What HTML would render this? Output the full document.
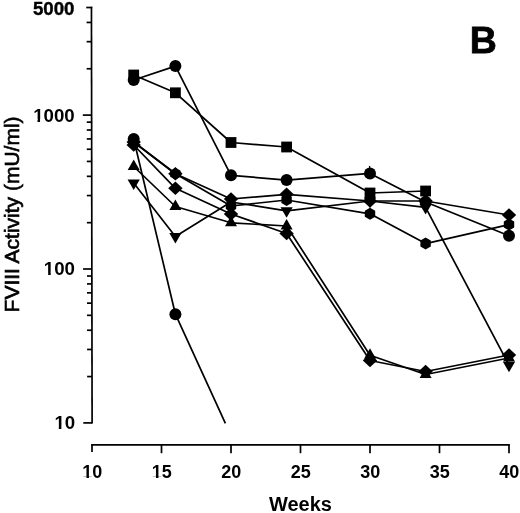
<!DOCTYPE html>
<html><head><meta charset="utf-8"><title>FVIII Activity</title><style>
html,body{margin:0;padding:0;background:#fff;width:520px;height:513px;overflow:hidden;}
svg{display:block;font-family:"Liberation Sans", sans-serif;}
</style></head><body>
<svg width="520" height="513" viewBox="0 0 520 513">
<defs><clipPath id="c1000"><rect x="30.13" y="91.6" width="47.6" height="27.74"/><rect x="37.5" y="91.6" width="2.57" height="36"/><rect x="43.72" y="91.6" width="34.01" height="36"/></clipPath><clipPath id="c100"><rect x="40.79" y="245.1" width="37.2" height="27.74"/><rect x="48.15" y="245.1" width="2.57" height="36"/><rect x="54.38" y="245.1" width="23.61" height="36"/></clipPath><clipPath id="c10"><rect x="51.45" y="399.1" width="26.8" height="27.74"/><rect x="58.81" y="399.1" width="2.57" height="36"/><rect x="65.04" y="399.1" width="13.21" height="36"/></clipPath><clipPath id="x10"><rect x="79.29" y="448.4" width="26.02" height="27.81"/><rect x="86.49" y="448.4" width="2.47" height="36"/><rect x="92.48" y="448.4" width="12.83" height="36"/></clipPath><clipPath id="x15"><rect x="148.79" y="448.4" width="26.02" height="27.81"/><rect x="155.99" y="448.4" width="2.47" height="36"/><rect x="161.98" y="448.4" width="12.83" height="36"/></clipPath></defs>
<rect width="520" height="513" fill="#fff"/>
<g stroke="#000" stroke-width="1.7" fill="none"><path d="M91.45 6.7 L92.1 423.4"/><path d="M83.3 422.9 L92.1 422.9"/><path d="M87.13 376.57 L92.03 376.57"/><path d="M87.08 349.47 L91.98 349.47"/><path d="M87.05 330.24 L91.95 330.24"/><path d="M87.03 315.33 L91.93 315.33"/><path d="M87.01 303.14 L91.91 303.14"/><path d="M87 292.84 L91.9 292.84"/><path d="M86.98 283.91 L91.88 283.91"/><path d="M86.97 276.04 L91.87 276.04"/><path d="M83.06 269 L91.86 269"/><path d="M86.89 222.67 L91.79 222.67"/><path d="M86.84 195.57 L91.74 195.57"/><path d="M86.81 176.34 L91.71 176.34"/><path d="M86.79 161.43 L91.69 161.43"/><path d="M86.77 149.24 L91.67 149.24"/><path d="M86.76 138.94 L91.66 138.94"/><path d="M86.74 130.01 L91.64 130.01"/><path d="M86.73 122.14 L91.63 122.14"/><path d="M82.82 115.1 L91.62 115.1"/><path d="M86.65 68.77 L91.55 68.77"/><path d="M86.6 41.67 L91.5 41.67"/><path d="M86.57 22.44 L91.47 22.44"/><path d="M86.25 7.53 L92.25 7.53"/><path d="M91.15 444.8 L509.85 444.8"/><path d="M92 444.8 L92 452"/><path d="M161.5 444.8 L161.5 453.2"/><path d="M231 444.8 L231 453.2"/><path d="M300.5 444.8 L300.5 453.2"/><path d="M370 444.8 L370 453.2"/><path d="M439.5 444.8 L439.5 453.2"/><path d="M509 444.8 L509 453.2"/></g>
<g stroke="#000" stroke-width="1.7" fill="none" stroke-linejoin="round"><path d="M133.7 80 L175.4 66.1 L231 175.3 L286.6 180.1 L370 173.4 L425.6 202 L509 235.8"/><path d="M133.7 75 L175.4 92.8 L231 142.5 L286.6 147 L370 193 L425.6 191"/><path d="M133.7 142 L175.4 173.7 L231 206 L286.6 200 L370 213.8 L425.6 243.6 L509 224.6"/><path d="M133.7 142 L175.4 173.7 L231 199 L286.6 194.3 L370 201 L425.6 201 L509 215"/><path d="M133.7 145 L175.4 188.3 L231 214 L286.6 233.5 L370 360.5 L425.6 371.5 L509 355"/><path d="M133.7 166.5 L175.4 206.5 L231 222.8 L286.6 226 L370 355.2 L425.6 374.5 L509 358"/><path d="M133.7 183.1 L175.4 236.5 L231 202 L286.6 210.8 L370 201 L425.6 207.4 L509 365.2"/><path d="M133.7 139 L175.4 314.2 L225.4 423.3"/></g>
<g fill="#000"><circle cx="133.7" cy="80" r="6"/><circle cx="175.4" cy="66.1" r="6"/><circle cx="231" cy="175.3" r="6"/><circle cx="286.6" cy="180.1" r="6"/><circle cx="370" cy="173.4" r="6"/><circle cx="425.6" cy="202" r="6"/><circle cx="509" cy="235.8" r="6"/><rect x="128.3" y="69.6" width="10.8" height="10.8"/><rect x="170" y="87.4" width="10.8" height="10.8"/><rect x="225.6" y="137.1" width="10.8" height="10.8"/><rect x="281.2" y="141.6" width="10.8" height="10.8"/><rect x="364.6" y="187.6" width="10.8" height="10.8"/><rect x="420.2" y="185.6" width="10.8" height="10.8"/><polygon points="133.7,136 138.9,139 138.9,145 133.7,148 128.5,145 128.5,139"/><polygon points="175.4,167.7 180.6,170.7 180.6,176.7 175.4,179.7 170.2,176.7 170.2,170.7"/><polygon points="231,200 236.2,203 236.2,209 231,212 225.8,209 225.8,203"/><polygon points="286.6,194 291.8,197 291.8,203 286.6,206 281.4,203 281.4,197"/><polygon points="370,207.8 375.2,210.8 375.2,216.8 370,219.8 364.8,216.8 364.8,210.8"/><polygon points="425.6,237.6 430.8,240.6 430.8,246.6 425.6,249.6 420.4,246.6 420.4,240.6"/><polygon points="509,218.6 514.2,221.6 514.2,227.6 509,230.6 503.8,227.6 503.8,221.6"/><path d="M133.7 135.2L140.9 142L133.7 148.8L126.5 142Z"/><path d="M175.4 166.9L182.6 173.7L175.4 180.5L168.2 173.7Z"/><path d="M231 192.2L238.2 199L231 205.8L223.8 199Z"/><path d="M286.6 187.5L293.8 194.3L286.6 201.1L279.4 194.3Z"/><path d="M370 194.2L377.2 201L370 207.8L362.8 201Z"/><path d="M425.6 194.2L432.8 201L425.6 207.8L418.4 201Z"/><path d="M509 208.2L516.2 215L509 221.8L501.8 215Z"/><path d="M133.7 138.2L140.9 145L133.7 151.8L126.5 145Z"/><path d="M175.4 181.5L182.6 188.3L175.4 195.1L168.2 188.3Z"/><path d="M231 207.2L238.2 214L231 220.8L223.8 214Z"/><path d="M286.6 226.7L293.8 233.5L286.6 240.3L279.4 233.5Z"/><path d="M370 353.7L377.2 360.5L370 367.3L362.8 360.5Z"/><path d="M425.6 364.7L432.8 371.5L425.6 378.3L418.4 371.5Z"/><path d="M509 348.2L516.2 355L509 361.8L501.8 355Z"/><path d="M133.7 159.5L139.7 170L127.7 170Z"/><path d="M175.4 199.5L181.4 210L169.4 210Z"/><path d="M231 215.8L237 226.3L225 226.3Z"/><path d="M286.6 219L292.6 229.5L280.6 229.5Z"/><path d="M370 348.2L376 358.7L364 358.7Z"/><path d="M425.6 367.5L431.6 378L419.6 378Z"/><path d="M509 351L515 361.5L503 361.5Z"/><path d="M127.6 179.6L139.8 179.6L133.7 190.1Z"/><path d="M169.3 233L181.5 233L175.4 243.5Z"/><path d="M224.9 198.5L237.1 198.5L231 209Z"/><path d="M280.5 207.3L292.7 207.3L286.6 217.8Z"/><path d="M363.9 197.5L376.1 197.5L370 208Z"/><path d="M419.5 203.9L431.7 203.9L425.6 214.4Z"/><path d="M502.9 361.7L515.1 361.7L509 372.2Z"/><circle cx="133.7" cy="139" r="6"/><circle cx="175.4" cy="314.2" r="6"/></g>
<g stroke="#000" fill="none"><path d="M369.6 165.9 L369.6 169.5" stroke-width="1.3"/></g>
<g fill="#000" font-family="Liberation Sans, sans-serif" font-weight="bold" opacity="0.999"><text x="32.95" y="14.63" font-size="18.7" stroke="#000" stroke-width="0.4">5000</text><text x="33.13" y="121.6" font-size="18.7" clip-path="url(#c1000)">1000</text><text x="43.79" y="275.1" font-size="18.7" clip-path="url(#c100)">100</text><text x="54.45" y="429.1" font-size="18.7" clip-path="url(#c10)">10</text><text x="82.29" y="478.4" font-size="18.0" clip-path="url(#x10)">10</text><text x="151.79" y="478.4" font-size="18.0" clip-path="url(#x15)">15</text><text x="221.29" y="478.4" font-size="18.0">20</text><text x="290.79" y="478.4" font-size="18.0">25</text><text x="360.29" y="478.4" font-size="18.0">30</text><text x="429.79" y="478.4" font-size="18.0">35</text><text x="499.29" y="478.4" font-size="18.0">40</text><text x="300.5" y="511" text-anchor="middle" font-size="20">Weeks</text><text transform="translate(18.75 312.4) rotate(-90)" font-size="21.0" font-weight="normal" stroke="#000" stroke-width="0.65">FVIII Activity (mU/ml)</text><text x="483.3" y="52.8" font-size="37.5" text-anchor="middle" stroke="#000" stroke-width="0.8">B</text></g>
</svg>
</body></html>
